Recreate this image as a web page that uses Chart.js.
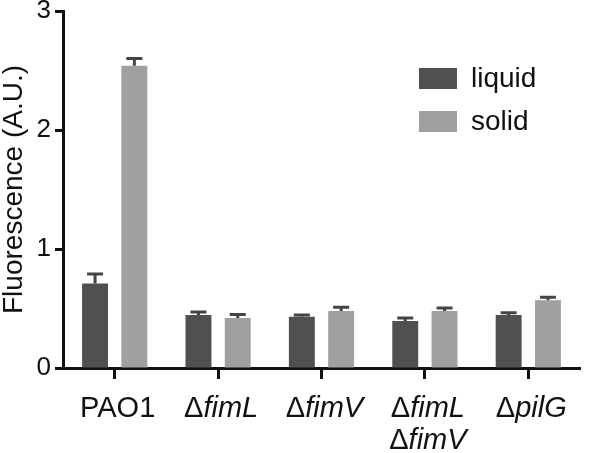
<!DOCTYPE html>
<html>
<head>
    <title>Fluorescence</title>
    <script src="https://cdn.jsdelivr.net/npm/chart.js"></script>
    <style>body { margin: 0; background: #fff; }</style>
</head>
<body>
    <canvas id="mainChart" width="600" height="453"></canvas>
    <script>
        const categories = [['PAO1'], ['ΔfimL'], ['ΔfimV'], ['ΔfimL', 'ΔfimV'], ['ΔpilG']];
        const liquid = [0.71, 0.445, 0.43, 0.395, 0.445];
        const liquidErr = [0.08, 0.025, 0.015, 0.025, 0.02];
        const solid = [2.54, 0.42, 0.48, 0.48, 0.57];
        const solidErr = [0.06, 0.03, 0.03, 0.025, 0.025];
        const yTicks = [0, 1, 2, 3];

        const FONT = '"Liberation Sans", Arial, sans-serif';

        // error bars (upper only)
        const errorBars = {
            id: 'errorBars',
            afterDatasetsDraw(chart) {
                const ctx = chart.ctx;
                const y = chart.scales.y;
                chart.data.datasets.forEach((ds, di) => {
                    chart.getDatasetMeta(di).data.forEach((bar, i) => {
                        const top = y.getPixelForValue(ds.data[i] + ds.errors[i]);
                        ctx.save();
                        ctx.strokeStyle = '#444';
                        ctx.lineWidth = 3;
                        ctx.beginPath();
                        ctx.moveTo(bar.x, bar.y);
                        ctx.lineTo(bar.x, top);
                        ctx.moveTo(bar.x - 8, top);
                        ctx.lineTo(bar.x + 8, top);
                        ctx.stroke();
                        ctx.restore();
                    });
                });
            }
        };

        // x labels: upright delta + italic gene name
        const drawLabelLine = (ctx, text, cx, baseline) => {
            const hasDelta = text.startsWith('Δ');
            const pre = hasDelta ? 'Δ' : '';
            const rest = hasDelta ? text.slice(1) : text;
            const upright = `29px ${FONT}`;
            const restFont = hasDelta ? `italic 29px ${FONT}` : upright;
            ctx.font = upright;
            const w1 = ctx.measureText(pre).width;
            ctx.font = restFont;
            const w2 = ctx.measureText(rest).width;
            const x0 = cx - (w1 + w2) / 2;
            ctx.font = upright;
            ctx.fillText(pre, x0, baseline);
            ctx.font = restFont;
            ctx.fillText(rest, x0 + w1, baseline);
        };

        const xLabels = {
            id: 'xLabels',
            afterDraw(chart) {
                const ctx = chart.ctx;
                const x = chart.scales.x;
                ctx.save();
                ctx.fillStyle = '#111';
                ctx.textAlign = 'left';
                ctx.textBaseline = 'alphabetic';
                categories.forEach((lines, i) => {
                    const cx = x.getPixelForValue(i) + 3;
                    lines.forEach((line, k) => {
                        drawLabelLine(ctx, line, cx, chart.chartArea.bottom + 49 + k * 32);
                    });
                });
                ctx.restore();
            }
        };

        // legend inside the plot, upper right
        const boxLegend = {
            id: 'boxLegend',
            afterDraw(chart) {
                const ctx = chart.ctx;
                ctx.save();
                ctx.font = `28px ${FONT}`;
                ctx.textBaseline = 'middle';
                chart.data.datasets.forEach((ds, i) => {
                    const top = 68 + i * 43;
                    ctx.fillStyle = ds.backgroundColor;
                    ctx.fillRect(419, top, 38, 21);
                    ctx.fillStyle = '#111';
                    ctx.fillText(ds.label, 471, top + 11);
                });
                ctx.restore();
            }
        };

        new Chart(document.getElementById('mainChart'), {
            type: 'bar',
            data: {
                labels: categories.map(l => l.join(' ')),
                datasets: [
                    {
                        label: 'liquid',
                        data: liquid,
                        errors: liquidErr,
                        backgroundColor: '#505050',
                        categoryPercentage: 0.76,
                        barPercentage: 0.66
                    },
                    {
                        label: 'solid',
                        data: solid,
                        errors: solidErr,
                        backgroundColor: '#a0a0a0',
                        categoryPercentage: 0.76,
                        barPercentage: 0.66
                    }
                ]
            },
            options: {
                responsive: false,
                animation: false,
                layout: { padding: { top: 11, right: 20, left: 0, bottom: 0 } },
                plugins: {
                    legend: { display: false },
                    tooltip: { enabled: false }
                },
                scales: {
                    x: {
                        border: { color: '#111', width: 3 },
                        grid: {
                            offset: false,
                            drawOnChartArea: false,
                            drawTicks: true,
                            tickLength: 11,
                            tickColor: '#111',
                            tickWidth: 3
                        },
                        ticks: { display: false },
                        afterFit: scale => {
                            scale.height = 85;
                            scale.paddingLeft = 0;
                            scale.paddingRight = 0;
                        }
                    },
                    y: {
                        min: 0,
                        max: 3,
                        afterBuildTicks: scale => {
                            scale.ticks = yTicks.map(v => ({ value: v }));
                        },
                        border: { color: '#111', width: 3 },
                        grid: {
                            drawOnChartArea: false,
                            drawTicks: true,
                            tickLength: 8,
                            tickColor: '#111',
                            tickWidth: 3
                        },
                        ticks: {
                            color: '#111',
                            padding: 4,
                            font: { family: FONT, size: 26 }
                        },
                        title: {
                            display: true,
                            text: 'Fluorescence (A.U.)',
                            color: '#111',
                            font: { family: FONT, size: 28 },
                            padding: { top: -3, bottom: 0 }
                        },
                        afterFit: scale => {
                            scale.width = 63;
                            scale.paddingTop = 0;
                            scale.paddingBottom = 0;
                        }
                    }
                }
            },
            plugins: [errorBars, xLabels, boxLegend]
        });
    </script>
</body>
</html>
